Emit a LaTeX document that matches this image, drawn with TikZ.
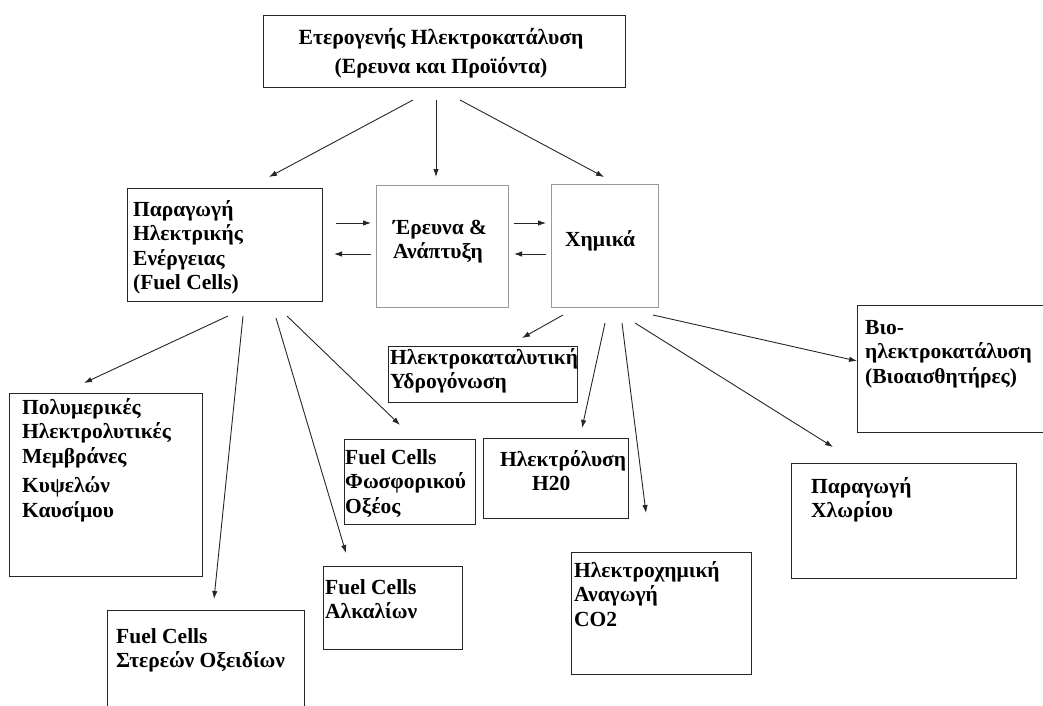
\documentclass[tikz,border=0pt]{standalone}
\usepackage{fontspec}
\setmainfont{Liberation Serif}
\usetikzlibrary{arrows.meta}
\newcommand\lnsl[1]{\begin{tabular}[t]{@{}l@{}}#1\end{tabular}}
\newcommand\lnsc[1]{\begin{tabular}[t]{@{}c@{}}#1\end{tabular}}
\newcommand\conn[3]{\coordinate (#1-s) at (#2);\coordinate (#1-e) at (#3);\draw[arr] (#1-s) -- (#1-e);}
\tikzset{
  box/.style={draw=black!85, line width=1.1pt, rectangle, inner sep=0pt, anchor=north west},
  gbox/.style={box, draw=black!40},
  txt/.style={inner sep=0pt, anchor=base west, font=\bfseries\fontsize{21.5}{24.5}\selectfont},
  ttxt/.style={inner sep=0pt, anchor=base, font=\bfseries\fontsize{21.7}{29}\selectfont},
  arr/.style={-{Latex[length=8pt,width=5.5pt]}, line width=0.9pt, draw=black!85},
}
\begin{document}
\begin{tikzpicture}[x=1pt,y=-1pt]
\useasboundingbox (0,0) rectangle (1043,705);
% boxes
\node[box, minimum width=362pt, minimum height=72pt] (top) at (263,15) {};
\node[box, minimum width=195pt, minimum height=113pt] (prod) at (127,188) {};
\node[gbox, minimum width=132pt, minimum height=122pt] (rnd) at (376,185) {};
\node[gbox, minimum width=107pt, minimum height=123pt] (chem) at (551,184) {};
\node[box, minimum width=189pt, minimum height=56pt] (hydro) at (388,346) {};
\node[box, minimum width=200pt, minimum height=127pt] (bio) at (857,305) {};
\node[box, minimum width=193pt, minimum height=183pt] (poly) at (9,393) {};
\node[box, minimum width=131pt, minimum height=85pt] (phos) at (344,439) {};
\node[box, minimum width=145pt, minimum height=80pt] (elys) at (483,438) {};
\node[box, minimum width=225pt, minimum height=115pt] (chlor) at (791,463) {};
\node[box, minimum width=180pt, minimum height=122pt] (co2) at (571,552) {};
\node[box, minimum width=139pt, minimum height=83pt] (alk) at (323,566) {};
\node[box, minimum width=197pt, minimum height=110pt] (sofc) at (107,610) {};
% texts
\node[ttxt] (ttop) at (441,44) {\lnsc{Ετερογενής Ηλεκτροκατάλυση\\(Ερευνα και Προϊόντα)}};
\node[txt] (tprod) at (133,216) {\lnsl{Παραγωγή\\Ηλεκτρικής\\Ενέργειας\\(Fuel Cells)}};
\node[txt] (trnd) at (393,234) {\lnsl{Έρευνα \&\\Ανάπτυξη}};
\node[txt] (tchem) at (565,246) {Χημικά};
\node[txt] (thydro) at (390,364) {\lnsl{Ηλεκτροκαταλυτική\\Υδρογόνωση}};
\node[txt] (tbio) at (865,334) {\lnsl{Βιο-\\ηλεκτροκατάλυση\\(Βιοαισθητήρες)}};
\node[txt] (tpoly) at (22,414) {\lnsl{Πολυμερικές\\Ηλεκτρολυτικές\\Μεμβράνες\\[5pt]Κυψελών\\Καυσίμου}};
\node[txt] (tphos) at (345,464) {\lnsl{Fuel Cells\\Φωσφορικού\\Οξέος}};
\node[txt] (telys) at (500,466) {Ηλεκτρόλυση};
\node[txt] (telys2) at (532,490) {H20};
\node[txt] (tchlor) at (811,493) {\lnsl{Παραγωγή\\Χλωρίου}};
\node[txt] (tco2) at (574,577) {\lnsl{Ηλεκτροχημική\\Αναγωγή\\CO2}};
\node[txt] (talk) at (325,594) {\lnsl{Fuel Cells\\Αλκαλίων}};
\node[txt] (tsofc) at (116,643) {\lnsl{Fuel Cells\\Στερεών Οξειδίων}};
% connectors
\conn{a1}{413,100}{269,177}
\conn{a2}{436,100}{436,177}
\conn{a3}{460,100}{604,177}
\conn{h1}{336,223}{371,223}
\conn{h2}{371,254}{334,254}
\conn{h3}{514,223}{546,223}
\conn{h4}{546,254}{514,254}
\conn{p1}{228,316}{84,383}
\conn{p2}{243,316}{214,599}
\conn{p3}{276,318}{346,553}
\conn{p4}{287,316}{400,425}
\conn{c1}{563,315}{522,338}
\conn{c2}{605,323}{582,428}
\conn{c3}{622,323}{646,513}
\conn{c4}{635,323}{833,447}
\conn{c5}{653,315}{857,361}
\end{tikzpicture}
\end{document}
